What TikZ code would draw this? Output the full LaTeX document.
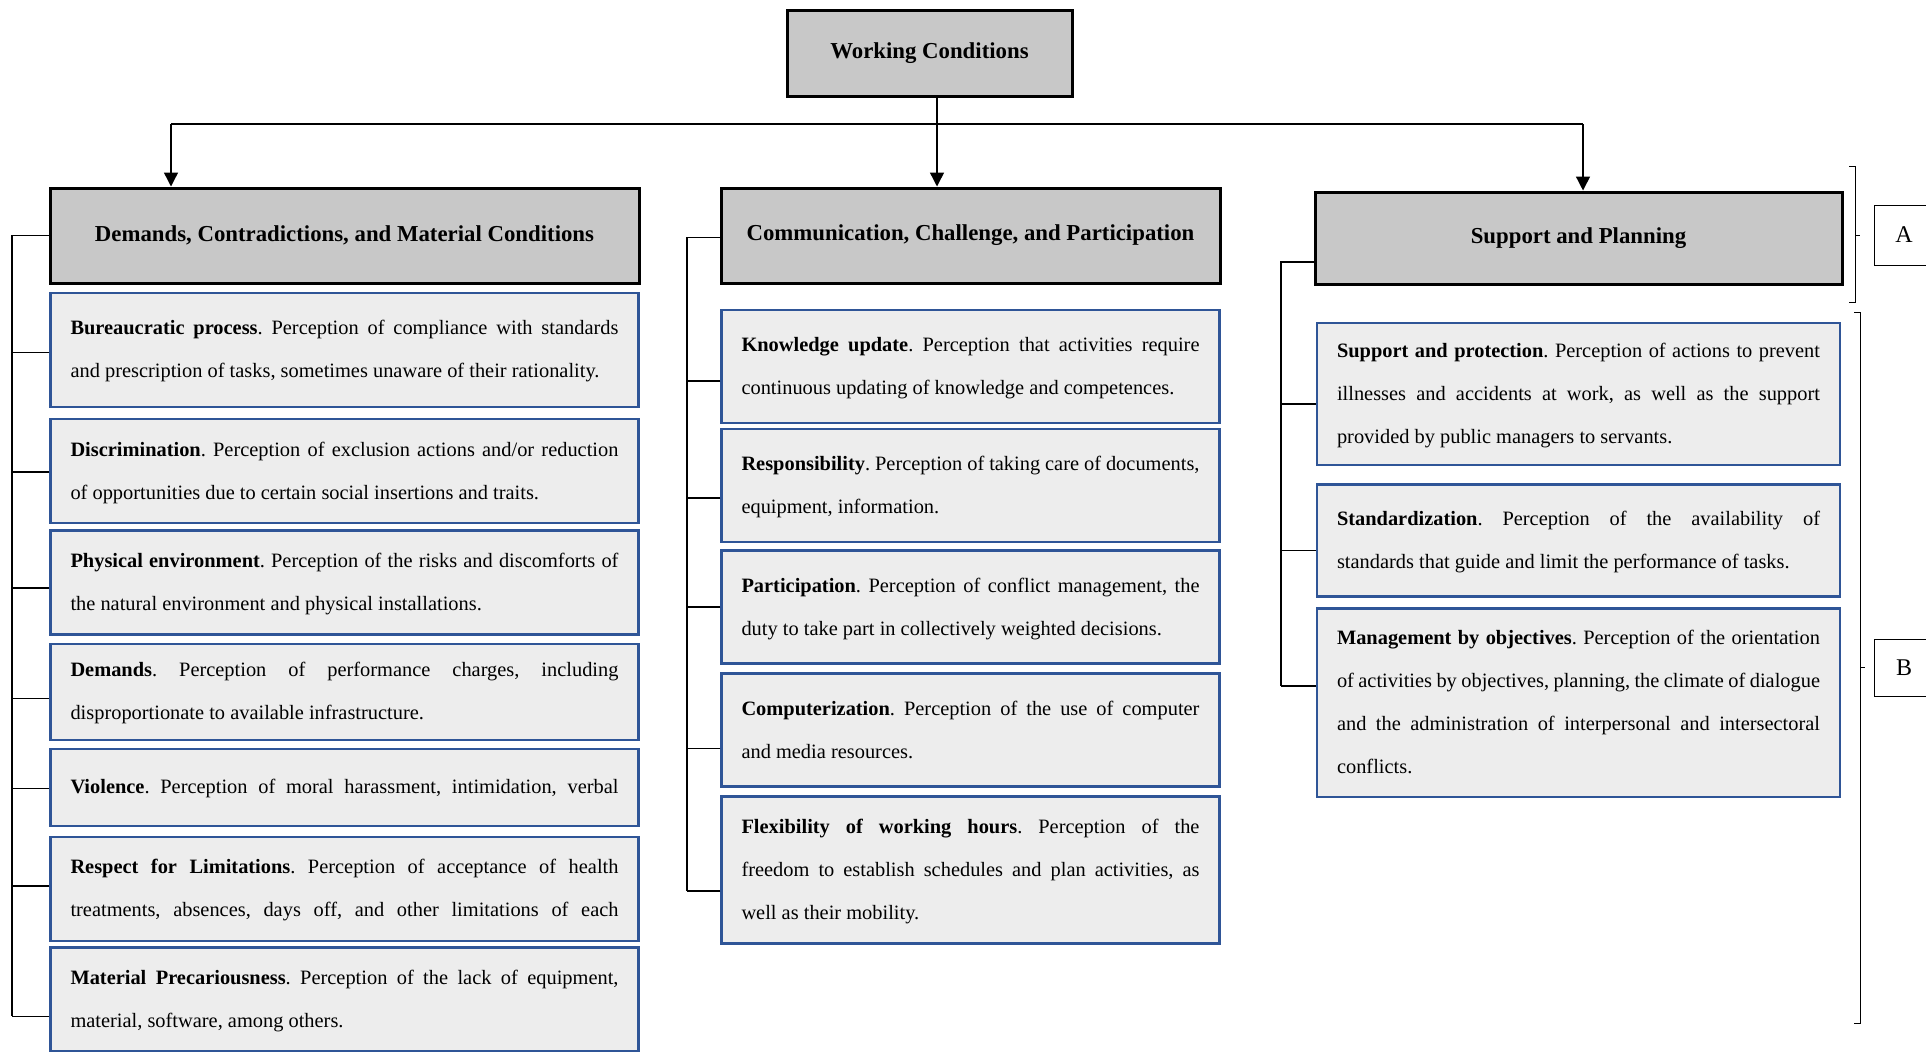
\documentclass[tikz,border=0pt]{standalone}
\usepackage{fontspec}
\setmainfont{Liberation Serif}
\usepackage{xcolor}
\usepackage{tikz}
\usetikzlibrary{arrows.meta,positioning,calc}

\definecolor{hdrgray}{RGB}{200,200,200}
\definecolor{boxgray}{RGB}{237,237,237}
\definecolor{boxblue}{RGB}{47,85,151}

\frenchspacing
\hyphenpenalty=10000
\exhyphenpenalty=10000
\newcommand{\topstrut}{\vrule width 0pt height 9.5pt depth 0pt\relax}
\newcommand{\botstrut}{\vrule width 0pt height 0pt depth 3pt\relax}
\newcommand{\itm}[2]{\leavevmode\topstrut\textbf{#1}. #2\botstrut}
\newcommand{\fullline}[1]{\hbox to\hsize{#1}}

\begin{document}
\begin{tikzpicture}[x=0.5pt,y=-0.5pt,>={Triangle[width=7pt,length=7pt]}]
	\tikzstyle{head}=[draw=black,line width=1.5pt,fill=hdrgray,minimum height=47.5pt,font=\fontsize{11.4}{13}\selectfont\bfseries]
	\tikzstyle{item}=[draw=boxblue,line width=1.2pt,fill=boxgray,inner xsep=10pt,inner ysep=11pt,align=justify,font=\fontsize{10.2}{21.5}\selectfont]
	\tikzstyle{ditem}=[item,text width=274pt,inner ysep=9pt]
	\tikzstyle{citem}=[item,text width=229pt,inner ysep=11.25pt]
	\tikzstyle{sitem}=[item,text width=241.5pt]
	\tikzstyle{link}=[line width=0.7pt]
	\tikzstyle{tag}=[draw=black,line width=0.5pt,fill=white,minimum width=30pt,font=\fontsize{12}{14}\selectfont]
	\useasboundingbox (0,0) rectangle (1926,1051);

	\node[head,minimum width=142.5pt,minimum height=43pt](wc) at (929.5,53){Working Conditions};
	\node[head,minimum width=294.5pt](dHead) at (344.5,235.5){Demands, Contradictions, and Material Conditions};
	\node[head,minimum width=249.5pt](cHead) at (970.5,235.5){Communication, Challenge, and Participation};
	\node[head,minimum width=263.5pt,minimum height=46pt](sHead) at (1578.5,238){Support and Planning};

	% left column
	\node[ditem,minimum height=57pt,below=3.6pt of dHead](d1){\itm{Bureaucratic process}{Perception of compliance with standards \linebreak and prescription of tasks, sometimes unaware of their rationality.}};
	\node[ditem,below=4.9pt of d1](d2){\itm{Discrimination}{Perception of exclusion actions and/or reduction \linebreak of opportunities due to certain social insertions and traits.}};
	\node[ditem,below=2.4pt of d2](d3){\itm{Physical environment}{Perception of the risks and discomforts of \linebreak the natural environment and physical installations.}};
	\node[ditem,inner ysep=7pt,below=3.5pt of d3](d4){\itm{Demands}{Perception of performance charges, including \linebreak disproportionate to available infrastructure.}};
	\node[ditem,minimum height=38.3pt,below=3.5pt of d4](d5){\noindent\fullline{\topstrut\textbf{Violence}. Perception of moral harassment, intimidation, verbal\botstrut}};
	\node[ditem,below=4.4pt of d5](d6){\itm{Respect for Limitations}{Perception of acceptance of health \linebreak \fullline{treatments, absences, days off, and other limitations of each}}};
	\node[ditem,below=2pt of d6](d7){\itm{Material Precariousness}{Perception of the lack of equipment, \linebreak material, software, among others.}};

	% middle column
	\node[citem,below=12pt of cHead](c1){\itm{Knowledge update}{Perception that activities require \linebreak continuous updating of knowledge and competences.}};
	\node[citem,below=1.8pt of c1](c2){\itm{Responsibility}{Perception of taking care of documents, \linebreak equipment, information.}};
	\node[citem,below=3.2pt of c2](c3){\itm{Participation}{Perception of conflict management, the \linebreak duty to take part in collectively weighted decisions.}};
	\node[citem,below=3.8pt of c3](c4){\itm{Computerization}{Perception of the use of computer \linebreak and media resources.}};
	\node[citem,inner ysep=9pt,below=3.8pt of c4](c5){\itm{Flexibility of working hours}{Perception of the \linebreak freedom to establish schedules and plan activities, as \linebreak well as their mobility.}};

	% right column
	\node[sitem,inner ysep=7.7pt,below=18.2pt of sHead](s1){\itm{Support and protection}{Perception of actions to prevent \linebreak illnesses and accidents at work, as well as the support \linebreak provided by public managers to servants.}};
	\node[sitem,below=8.5pt of s1](s2){\itm{Standardization}{Perception of the availability of \linebreak standards that guide and limit the performance of tasks.}};
	\node[sitem,inner ysep=8.7pt,below=4.8pt of s2](s3){\itm{Management by objectives}{Perception of the orientation \linebreak of activities by objectives, planning, the climate of dialogue \linebreak and the administration of interpersonal and intersectoral \linebreak conflicts.}};

	\node[tag,minimum height=30pt](A) at (1904,235){A};
	\node[tag,minimum height=28.5pt](B) at (1904,667.5){B};

	% arrows from the top
	\coordinate (jL) at (171,124);
	\coordinate (jC) at (937,124);
	\coordinate (jR) at (1583,124);
	\draw[link] (jL) -- (jR);
	\draw[link,->] (wc.south -| jC) -- (jC |- cHead.north);
	\draw[link,->] (jL) -- (jL |- dHead.north);
	\draw[link,->] (jR) -- (jR |- sHead.north);

	% spines
	\coordinate (dSpine) at (12,0);
	\coordinate (cSpine) at (687,0);
	\coordinate (sSpine) at (1281,0);
	\foreach \i/\dy in {1/-1.2,2/-0.5,3/-2.8,4/-3.4,5/-0.5,6/1.5,7/-8.5}{
		\coordinate (td\i) at ([yshift=\dy pt]d\i.west);
		\draw[link] (td\i) -- (td\i -| dSpine);
	}
	\draw[link] (dHead.west) -- (dHead.west -| dSpine) -- (td7 -| dSpine);
	\foreach \i/\dy in {1/-7.4,2/-6.4,3/0,4/-9.2,5/-10.4}{
		\coordinate (tc\i) at ([yshift=\dy pt]c\i.west);
		\draw[link] (tc\i) -- (tc\i -| cSpine);
	}
	\draw[link] ([yshift=-1pt]cHead.west) -- ([yshift=-1pt]cHead.west -| cSpine) -- (tc5 -| cSpine);
	\foreach \i/\dy in {1/-5,2/-5,3/8.3}{
		\coordinate (ts\i) at ([yshift=\dy pt]s\i.west);
		\draw[link] (ts\i) -- (ts\i -| sSpine);
	}
	\draw[link] ([yshift=-12pt]sHead.west) -- ([yshift=-12pt]sHead.west -| sSpine) -- (ts3 -| sSpine);

	% brackets
	\draw[line width=0.5pt] (1849,166) -- (1855,166) -- (1855,302) -- (1849,302);
	\draw[line width=0.5pt] (1855,235) -- (1860,235);
	\draw[line width=0.5pt] (1854,312) -- (1860,312) -- (1860,1023) -- (1854,1023);
	\draw[line width=0.5pt] (1860,667.5) -- (1865,667.5);
\end{tikzpicture}
\end{document}
